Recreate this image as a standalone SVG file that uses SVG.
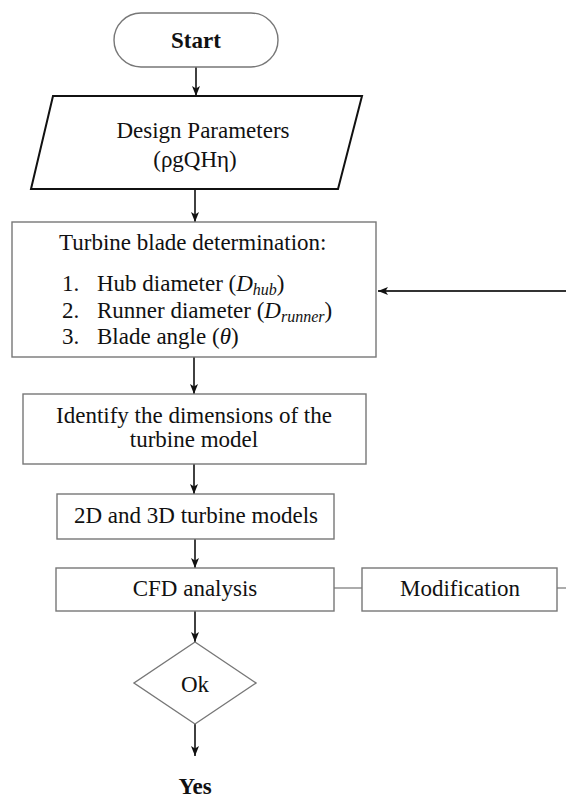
<svg xmlns="http://www.w3.org/2000/svg" width="566" height="798" viewBox="0 0 566 798">
<style>
.t{font-family:"Liberation Serif","Times New Roman",serif;font-size:23px;fill:#111}
.b{font-weight:bold}
.m{text-anchor:middle}
.box{fill:#fff;stroke:#777;stroke-width:1.4}
.dark{fill:#fff;stroke:#111;stroke-width:2}
.arr{stroke:#111;stroke-width:1.6;fill:none;marker-end:url(#ah)}
.ln{stroke:#888;stroke-width:1.4;fill:none}
.i{font-style:italic}
</style>
<defs>
<marker id="ah" markerUnits="userSpaceOnUse" markerWidth="10" markerHeight="10" viewBox="0 0 10 10" refX="10" refY="5" orient="auto">
<path d="M0,1 L10,5 L0,9 L2.5,5 Z" fill="#111"/>
</marker>
</defs>
<rect width="566" height="798" fill="#fff"/>
<g id="connectors">
<line class="arr" x1="196" y1="67" x2="196" y2="96"/>
<line class="arr" x1="195" y1="189" x2="195" y2="222"/>
<line class="arr" x1="194" y1="357" x2="194" y2="394"/>
<line class="arr" x1="194" y1="464" x2="194" y2="494"/>
<line class="arr" x1="195" y1="539" x2="195" y2="568"/>
<line class="arr" x1="195" y1="611" x2="195" y2="642"/>
<line class="arr" x1="195" y1="724" x2="195" y2="756"/>
<line class="ln" x1="334" y1="588" x2="362" y2="588"/>
<line class="ln" x1="557" y1="588" x2="566" y2="588"/>
<line class="arr" x1="566" y1="291" x2="378" y2="291" style="stroke:#333;stroke-width:2"/>
</g>
<g id="start">
<rect class="box" x="114" y="13" width="164" height="54" rx="27"/>
<text class="t b m" x="196" y="48">Start</text>
</g>
<g id="design">
<polygon class="dark" points="53,96 362,96 338,189 31,189"/>
<text class="t m" x="203" y="138">Design Parameters</text>
<text class="t m" x="195" y="167">(ρgQHη)</text>
</g>
<g id="blade">
<rect class="box" x="12" y="222" width="364" height="135"/>
<text class="t" x="59" y="250">Turbine blade determination:</text>
<text class="t" x="62" y="291">1.</text>
<text class="t" x="97" y="291">Hub diameter (<tspan class="i">D</tspan><tspan class="i" font-size="16" dy="4">hub</tspan><tspan dy="-4">)</tspan></text>
<text class="t" x="62" y="318">2.</text>
<text class="t" x="97" y="318">Runner diameter (<tspan class="i">D</tspan><tspan class="i" font-size="16" dy="4">runner</tspan><tspan dy="-4">)</tspan></text>
<text class="t" x="62" y="344">3.</text>
<text class="t" x="97" y="344">Blade angle (<tspan class="i">θ</tspan>)</text>
</g>
<g id="identify">
<rect class="box" x="23" y="394" width="343" height="70"/>
<text class="t m" x="194" y="423">Identify the dimensions of the</text>
<text class="t m" x="194" y="447">turbine model</text>
</g>
<g id="models">
<rect class="box" x="57" y="494" width="277" height="45"/>
<text class="t m" x="196" y="523">2D and 3D turbine models</text>
</g>
<g id="cfd">
<rect class="box" x="56" y="568" width="278" height="43"/>
<text class="t m" x="195" y="596">CFD analysis</text>
</g>
<g id="modification">
<rect class="box" x="362" y="568" width="195" height="43"/>
<text class="t m" x="460" y="596">Modification</text>
</g>
<g id="ok">
<polygon class="box" points="195,642 256,683 195,724 134,683"/>
<text class="t m" x="195" y="692">Ok</text>
</g>
<g id="yes">
<text class="t b m" x="195" y="794">Yes</text>
</g>
</svg>
